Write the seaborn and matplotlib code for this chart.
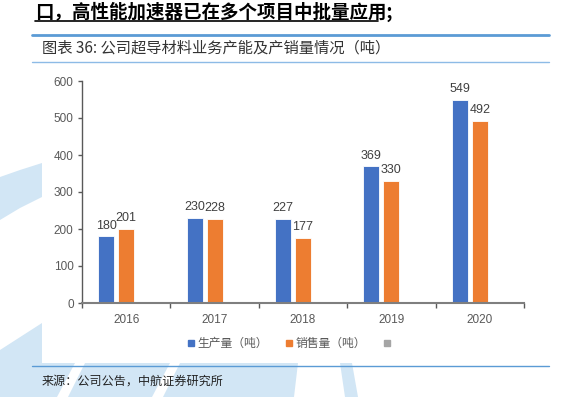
import numpy as np
import pandas as pd
import matplotlib
matplotlib.use("Agg")
import matplotlib.pyplot as plt
import seaborn as sns
from matplotlib.lines import Line2D
from matplotlib.patches import Polygon

# data
years = ["2016", "2017", "2018", "2019", "2020"]
production = [180, 230, 227, 369, 549]
sales = [201, 228, 177, 330, 492]
series = ["生产量（吨）", "销售量（吨）", " "]
colors = ["#4472c4", "#ed7d31", "#a5a5a5"]
yticks = [0, 100, 200, 300, 400, 500, 600]

headline = "口，高性能加速器已在多个项目中批量应用;"
title = "图表 36: 公司超导材料业务产能及产销量情况（吨）"
source = "来源：公司公告，中航证券研究所"

df = pd.DataFrame({
    "year": years * 2,
    "series": [series[0]] * len(years) + [series[1]] * len(years),
    "value": production + sales,
})

sns.set_theme(style="white")
plt.rcParams["font.family"] = ["Liberation Sans", "Noto Sans CJK SC"]

W, H = 562, 397
fig = plt.figure(figsize=(W / 100, H / 100), dpi=100)


def px(x, y):
    return (x / W, 1 - y / H)


# light blue watermark around the chart box
wm = "#d2e6f5"
shapes = [
    [(0, 177), (20, 170), (42, 163), (42, 197), (20, 208), (0, 220)],
    [(0, 350), (42, 323), (42, 363), (75, 363), (57, 397), (0, 397)],
    [(85, 363), (170, 363), (152, 397), (68, 397)],
    [(180, 363), (298, 363), (294, 397), (163, 397)],
    [(340, 363), (352, 363), (358, 397), (345, 397)],
]
for s in shapes:
    fig.add_artist(Polygon([px(*p) for p in s], closed=True, transform=fig.transFigure,
                           facecolor=wm, edgecolor="none", zorder=0))

ax = fig.add_axes([82 / W, 1 - 303 / H, 442 / W, 222 / H])
sns.barplot(data=df, x="year", y="value", hue="series", hue_order=series,
            palette=dict(zip(series, colors)), saturation=1, width=0.68, gap=0.2,
            edgecolor="white", linewidth=0.6, errorbar=None, legend=False, ax=ax)

for c in ax.containers:
    ax.bar_label(c, fmt="%d", padding=3.5, fontsize=9, color="#404040")

ax.set_ylim(0, 600)
ax.set_yticks(yticks)
ax.set_xlim(-0.5, len(years) - 0.5)
ax.set_xticks(np.arange(-0.5, len(years), 1))
ax.set_xticklabels([])
ax.set_xticks(range(len(years)), minor=True)
ax.set_xticklabels(years, minor=True)
ax.set_xlabel("")
ax.set_ylabel("")

ax.tick_params(axis="y", direction="out", length=3, width=1, color="#595959",
               labelsize=8.5, labelcolor="#595959", pad=3, left=True)
ax.tick_params(axis="x", which="major", direction="out", length=3.5, width=1,
               color="#595959", bottom=True)
ax.tick_params(axis="x", which="minor", length=0, labelsize=8.5,
               labelcolor="#595959", pad=8)

sns.despine(ax=ax)
ax.spines["left"].set_color("#595959")
ax.spines["left"].set_linewidth(1.0)
ax.spines["bottom"].set_color("#7f7f7f")
ax.spines["bottom"].set_linewidth(1.5)

handles = [Line2D([], [], marker="s", ls="", color=c, markersize=4.5) for c in colors]
fig.legend(handles, series, loc="center", bbox_to_anchor=px(292, 344), ncol=3,
           frameon=False, fontsize=8.5, handlelength=0.7, handletextpad=0.2,
           columnspacing=1.45, labelcolor="#595959")

# page header / footer
fig.text(*px(35, 12), headline, fontsize=13.3, fontweight="bold", va="center",
         family=["Noto Sans CJK SC"], color="black")
fig.add_artist(Line2D([35 / W, 378 / W], [1 - 21 / H] * 2, transform=fig.transFigure,
                      color="black", lw=1.2))
fig.add_artist(Line2D([32 / W, 549 / W], [1 - 35 / H] * 2, transform=fig.transFigure,
                      color="#5b9bd5", lw=2))
fig.text(*px(42, 48), title, fontsize=11, va="center", color="#333333",
         family=["Noto Sans CJK SC"])
fig.add_artist(Line2D([32 / W, 549 / W], [1 - 62 / H] * 2, transform=fig.transFigure,
                      color="#8dbbe6", lw=1))
fig.add_artist(Line2D([32 / W, 549 / W], [1 - 366 / H] * 2, transform=fig.transFigure,
                      color="#5b9bd5", lw=1))
fig.text(*px(42, 381), source, fontsize=8.7, va="center", color="#222222",
         family=["Noto Sans CJK SC"])

fig.savefig("out.png", dpi=100)
